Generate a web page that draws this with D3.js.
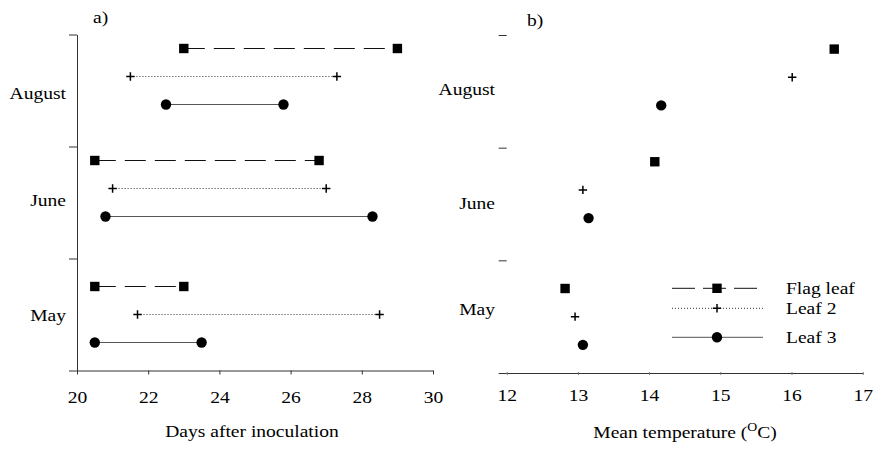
<!DOCTYPE html>
<html>
<head>
<meta charset="utf-8">
<script src="https://cdn.jsdelivr.net/npm/d3@7"></script>
<style>
  body { margin: 0; background: #fff; }
  text { font-family: "Liberation Serif", "Times New Roman", serif; fill: #000; }
</style>
</head>
<body>
<div id="chart"></div>
<script>
// DATA (month order: May, June, August)
const months = ["May", "June", "August"];
const leaves = ["Flag leaf", "Leaf 2", "Leaf 3"];

// days after inoculation: start / end of each range
const flagStart = [20.5, 20.5, 23.0];
const flagEnd = [23.0, 26.8, 29.0];
const leaf2Start = [21.7, 21.0, 21.5];
const leaf2End = [28.5, 27.0, 27.3];
const leaf3Start = [20.5, 20.8, 22.5];
const leaf3End = [23.5, 28.3, 25.8];

// mean temperature
const flagTemp = [12.82, 14.08, 16.6];
const leaf2Temp = [12.96, 13.07, 16.01];
const leaf3Temp = [13.07, 13.15, 14.17];

// row of each leaf inside the month blocks (y units, 0..12)
const flagRow = [3, 7.5, 11.5];
const leaf2Row = [2, 6.5, 10.5];
const leaf3Row = [1, 5.5, 9.5];
const monthLabelA = [1.96, 6.07, 9.9];
const monthLabelB = [2.27, 6.03, 10.08];

const xTicksA = [20, 22, 24, 26, 28, 30];
const xTicksB = [12, 13, 14, 15, 16, 17];
const yTicks = [0, 4, 8, 12];

const series = [
  {name: leaves[0], start: flagStart, end: flagEnd, temp: flagTemp, row: flagRow, symbol: "square", dash: "21,9", stroke: "#111"},
  {name: leaves[1], start: leaf2Start, end: leaf2End, temp: leaf2Temp, row: leaf2Row, symbol: "plus", dash: "1,2", stroke: "#333"},
  {name: leaves[2], start: leaf3Start, end: leaf3End, temp: leaf3Temp, row: leaf3Row, symbol: "circle", dash: null, stroke: "#555"}
];

const width = 873, height = 453;
const fontSize = 17, stretch = 1.15;

const svg = d3.select("#chart").append("svg")
  .attr("width", width)
  .attr("height", height);

// HELPERS
function drawMarker(g, type, x, y) {
  if (type === "square") {
    g.append("rect").attr("x", x - 4.7).attr("y", y - 4.7)
      .attr("width", 9.4).attr("height", 9.4).attr("fill", "#000");
  } else if (type === "circle") {
    g.append("circle").attr("cx", x).attr("cy", y).attr("r", 5.2).attr("fill", "#000");
  } else {
    g.append("path").attr("d", `M${x - 4.2},${y}H${x + 4.2}M${x},${y - 4.2}V${y + 4.2}`)
      .attr("stroke", "#000").attr("stroke-width", 1.5).attr("fill", "none");
  }
}

function stretchedText(g, txt, x, y, anchor) {
  return g.append("text")
    .attr("transform", `translate(${x},${y}) scale(${stretch},1)`)
    .attr("text-anchor", anchor)
    .attr("font-size", fontSize + "px")
    .text(txt);
}

function styleAxis(g) {
  g.selectAll("path, line").attr("stroke", "#333");
  g.selectAll("text")
    .attr("font-size", fontSize + "px")
    .attr("font-family", "Liberation Serif")
    .attr("fill", "#000")
    .attr("transform", `scale(${stretch},1)`);
}

// PANEL A
const xA = d3.scaleLinear().domain([20, 30]).range([77, 433]);
const yA = d3.scaleLinear().domain([0, 12]).range([370.5, 34.5]);

const axA = svg.append("g").attr("transform", `translate(0,${yA(0)})`)
  .call(d3.axisBottom(xA).tickValues(xTicksA).tickFormat(d3.format("d"))
    .tickSize(4).tickSizeOuter(0).tickPadding(16));
styleAxis(axA);

const ayA = svg.append("g").attr("transform", `translate(${xA(20)},0)`)
  .call(d3.axisLeft(yA).tickValues(yTicks).tickSize(8).tickSizeOuter(0).tickFormat(""));
styleAxis(ayA);

months.forEach((m, i) => {
  stretchedText(svg, m, 66, yA(monthLabelA[i]), "end").attr("dominant-baseline", "central");
});

series.forEach(s => {
  const g = svg.append("g");
  months.forEach((m, i) => {
    g.append("line")
      .attr("x1", xA(s.start[i])).attr("x2", xA(s.end[i]))
      .attr("y1", yA(s.row[i])).attr("y2", yA(s.row[i]))
      .attr("stroke", s.stroke).attr("stroke-width", 1)
      .attr("stroke-dasharray", s.dash);
    drawMarker(g, s.symbol, xA(s.start[i]), yA(s.row[i]));
    drawMarker(g, s.symbol, xA(s.end[i]), yA(s.row[i]));
  });
});

stretchedText(svg, "a)", 93, 23, "start");
stretchedText(svg, "Days after inoculation", 252, 437, "middle");

// PANEL B
const xB = d3.scaleLinear().domain([12, 17]).range([506.7, 862.7]);
const yB = d3.scaleLinear().domain([0, 12]).range([373, 35]);

const axB = svg.append("g").attr("transform", `translate(0,${yB(0)})`)
  .call(d3.axisBottom(xB).tickValues(xTicksB).tickFormat(d3.format("d"))
    .tickSize(2).tickSizeOuter(0).tickPadding(14));
styleAxis(axB);
axB.selectAll(".tick line").attr("y1", -1).attr("stroke", "#777");

const ayB = svg.append("g").attr("transform", `translate(${xB(12)},0)`)
  .call(d3.axisLeft(yB).tickValues(yTicks).tickSize(8).tickSizeOuter(0).tickFormat(""));
styleAxis(ayB);
ayB.select(".domain").remove();

months.forEach((m, i) => {
  stretchedText(svg, m, 495, yB(monthLabelB[i]), "end").attr("dominant-baseline", "central");
});

series.forEach(s => {
  const g = svg.append("g");
  months.forEach((m, i) => drawMarker(g, s.symbol, xB(s.temp[i]), yB(s.row[i])));
});

stretchedText(svg, "b)", 527, 26, "start");
const tt = stretchedText(svg, "Mean temperature (", 685, 438, "middle");
tt.append("tspan").attr("font-size", "12px").attr("dy", -7).text("O");
tt.append("tspan").attr("dy", 7).text("C)");

// LEGEND
const legendRows = [288.3, 308.3, 337.3];
const legend = svg.append("g").attr("class", "legend");
series.forEach((s, i) => {
  const y = legendRows[i];
  legend.append("line")
    .attr("x1", 672).attr("x2", s.symbol === "square" ? 757 : 763)
    .attr("y1", y).attr("y2", y)
    .attr("stroke", s.stroke).attr("stroke-width", 1)
    .attr("stroke-dasharray", s.symbol === "square" ? "23,8" : s.dash);
  drawMarker(legend, s.symbol, 717, y);
  stretchedText(legend, s.name, 786, y, "start").attr("dominant-baseline", "central");
});
</script>
</body>
</html>
